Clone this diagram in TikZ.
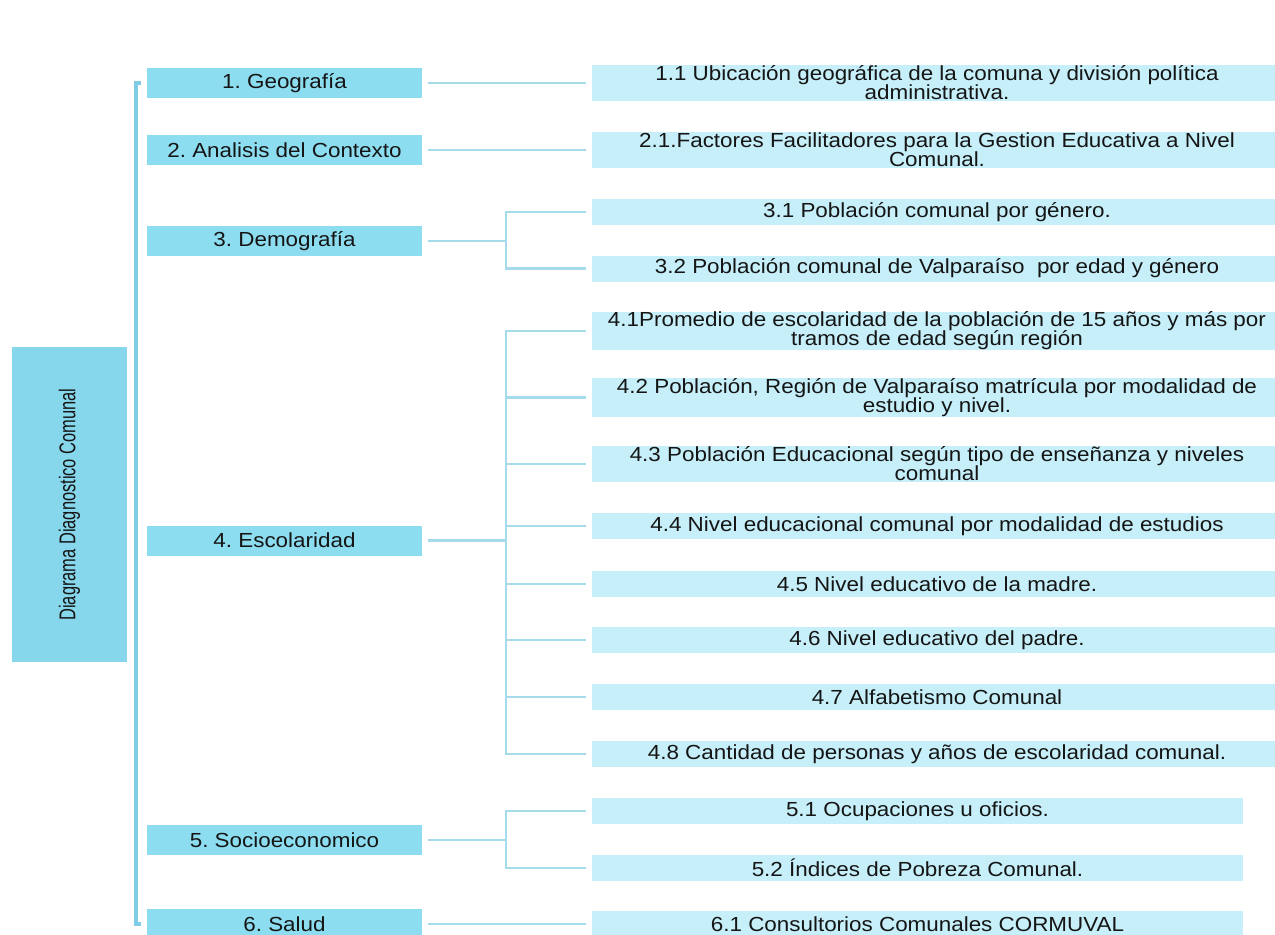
\documentclass[tikz,border=0pt]{standalone}
\usepackage{fontspec}
\setmainfont[FakeStretch=1.1]{Liberation Sans}
\newfontfamily\rootfont[FakeStretch=0.72]{Liberation Sans}
\newcommand\boxfont{\fontsize{11.6}{10.8}\selectfont\lineskiplimit=-20pt\relax}
\definecolor{catblue}{HTML}{8DDDF1}
\definecolor{rootblue}{HTML}{86D6EC}
\definecolor{subblue}{HTML}{C6EFF9}
\definecolor{linkblue}{HTML}{A6DBEB}
\definecolor{trunkblue}{HTML}{7ECDE4}
\definecolor{inkgray}{HTML}{151515}
\frenchspacing
\begin{document}
\begin{tikzpicture}[
                            x=0.02cm, y=-0.02cm,
                            every node/.style={text=inkgray, font=\boxfont},
                            cat/.style={fill=catblue, minimum width=5.5cm, minimum height=0.6cm, inner sep=0pt, outer sep=0.12cm},
                            sub/.style={fill=subblue, minimum width=13.8cm, minimum height=0.52cm, inner sep=0pt, outer sep=0.12cm, align=center},
                            twoline/.style={minimum height=0.72cm},
                            narrow/.style={minimum width=13.02cm},
                            link/.style={draw=linkblue, line width=1.2pt},
                            trunk/.style={draw=trunkblue, line width=2pt}
                            ]

                            \useasboundingbox (0,0) rectangle (1275,934);

                            \node [fill=rootblue, rotate=90, minimum width=6.3cm, minimum height=2.3cm, font=\rootfont\fontsize{13}{13}\selectfont] (root) at (69.5,504.5) {Diagrama Diagnostico Comunal};

                            \node [cat] (geo) at (284.5,83) {1. Geografía};
                            \node [cat] (ctx) at (284.5,150) {2. Analisis del Contexto};
                            \node [cat] (demo) at (284.5,241) {3. Demografía};
                            \node [cat] (esc) at (284.5,540.5) {4. Escolaridad};
                            \node [cat] (socio) at (284.5,840) {5. Socioeconomico};
                            \node [cat] (salud) at (284.5,924) {6. Salud};

                            \node [sub, twoline] (geo1) at (937,83) {1.1 Ubicación geográfica de la comuna y división política\\administrativa.};
                            \node [sub, twoline] (ctx1) at (937,150) {2.1.Factores Facilitadores para la Gestion Educativa a Nivel\\Comunal.};
                            \node [sub] (demo1) at (937,212) {3.1 Población comunal por género.};
                            \node [sub] (demo2) at (937,268.5) {3.2 Población comunal de Valparaíso\ \ por edad y género};
                            \node [sub, twoline] (esc1) at (937,331) {4.1Promedio de escolaridad de la población de 15 años y más por\\tramos de edad según región};
                            \node [sub, twoline] (esc2) at (937,397.5) {4.2 Población, Región de Valparaíso matrícula por modalidad de\\estudio y nivel.};
                            \node [sub, twoline] (esc3) at (937,464) {4.3 Población Educacional según tipo de enseñanza y niveles\\comunal};
                            \node [sub] (esc4) at (937,526) {4.4 Nivel educacional comunal por modalidad de estudios};
                            \node [sub] (esc5) at (937,584) {4.5 Nivel educativo de la madre.};
                            \node [sub] (esc6) at (937,640) {4.6 Nivel educativo del padre.};
                            \node [sub] (esc7) at (937,697) {4.7 Alfabetismo Comunal};
                            \node [sub] (esc8) at (937,754) {4.8 Cantidad de personas y años de escolaridad comunal.};
                            \node [sub, narrow] (socio1) at (917.5,811) {5.1 Ocupaciones u oficios.};
                            \node [sub, narrow] (socio2) at (917.5,868) {5.2 Índices de Pobreza Comunal.};
                            \node [sub, narrow] (salud1) at (917.5,924) {6.1 Consultorios Comunales CORMUVAL};

                            \draw[trunk] (geo.west) -- ++(-5,0) |- (salud.west);

                            \draw[link] (geo.east) -- (geo1.west);
                            \draw[link] (ctx.east) -- (ctx1.west);
                            \draw[link] (salud.east) -- (salud1.west);
                            \foreach \s in {demo1,demo2}
                                \draw[link] (demo.east) -- ++(78,0) |- (\s.west);
                            \foreach \s in {1,...,8}
                                \draw[link] (esc.east) -- ++(78,0) |- (esc\s.west);
                            \foreach \s in {socio1,socio2}
                                \draw[link] (socio.east) -- ++(78,0) |- (\s.west);
                        \end{tikzpicture}
\end{document}
